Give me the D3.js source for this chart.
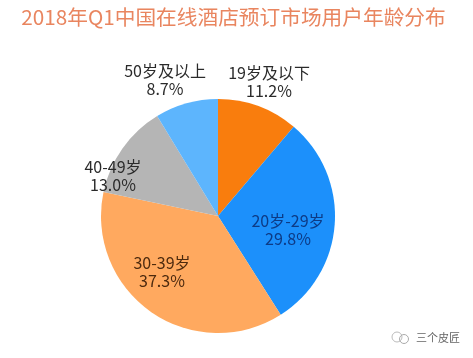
<!DOCTYPE html>
<html>
<head>
<meta charset="utf-8">
<script src="https://cdn.jsdelivr.net/npm/d3@7"></script>
<style>
  html, body { margin: 0; padding: 0; background: #fff; }
  text { font-family: "Noto Sans CJK SC", "Open Sans", sans-serif; }
</style>
</head>
<body>
<div id="chart"></div>
<script>
// Chart data
const categories = ["19岁及以下", "20岁-29岁", "30-39岁", "40-49岁", "50岁及以上"];
const shares = [11.2, 29.8, 37.3, 13.0, 8.7];
const titleText = "2018年Q1中国在线酒店预订市场用户年龄分布";
const footerText = "三个皮匠";

// Layout
const width = 473, height = 358;
const cx = 218, cy = 216, radius = 117;
const colors = ["#f97d10", "#1a90fb", "#ffa95e", "#b5b5b5", "#5db5fd"];
const labelColors = ["#2b2b2b", "#0b3a85", "#4d2a10", "#2b2b2b", "#2b2b2b"];
// label anchor points relative to the pie centre
const labelOffsets = [[51, -137], [70, 11], [-56, 53], [-105, -43], [-53, -139]];

const svg = d3.select("#chart")
    .append("svg")
    .attr("width", width)
    .attr("height", height)
    .style("display", "block");

const defs = svg.append("defs");
defs.append("filter").attr("id", "soft")
    .append("feGaussianBlur").attr("stdDeviation", 0.45);

// Title
svg.append("text")
    .attr("x", 233.5)
    .attr("y", 25)
    .attr("text-anchor", "middle")
    .attr("font-size", 20.7)
    .attr("fill", "#e9855f")
    .attr("filter", "url(#soft)")
    .text(titleText);

// Pie
const pie = d3.pie().sort(null).value(d => d);
const arc = d3.arc().innerRadius(0).outerRadius(radius);
const g = svg.append("g").attr("transform", `translate(${cx},${cy})`);

g.selectAll("path")
    .data(pie(shares))
    .enter()
    .append("path")
    .attr("d", arc)
    .attr("fill", (d, i) => colors[i])
    .attr("filter", "url(#soft)");

// Labels, two lines each
const labels = g.selectAll("text.label")
    .data(categories)
    .enter()
    .append("text")
    .attr("class", "label")
    .attr("text-anchor", "middle")
    .attr("font-size", 16)
    .attr("fill", (d, i) => labelColors[i])
    .attr("filter", "url(#soft)")
    .attr("transform", (d, i) => `translate(${labelOffsets[i][0]},${labelOffsets[i][1]})`);

labels.append("tspan").attr("x", 0).attr("y", 0).text(d => d);
labels.append("tspan").attr("x", 0).attr("y", 18).text((d, i) => shares[i].toFixed(1) + "%");

// Watermark
const mark = svg.append("g").attr("filter", "url(#soft)");
mark.append("circle").attr("cx", 397).attr("cy", 337).attr("r", 5)
    .attr("fill", "none").attr("stroke", "#bbb").attr("stroke-width", 1);
mark.append("circle").attr("cx", 404).attr("cy", 339).attr("r", 4.5)
    .attr("fill", "none").attr("stroke", "#aaa").attr("stroke-width", 1);
mark.append("text")
    .attr("x", 416).attr("y", 342)
    .attr("font-size", 11)
    .attr("fill", "#666")
    .text(footerText);
</script>
</body>
</html>
